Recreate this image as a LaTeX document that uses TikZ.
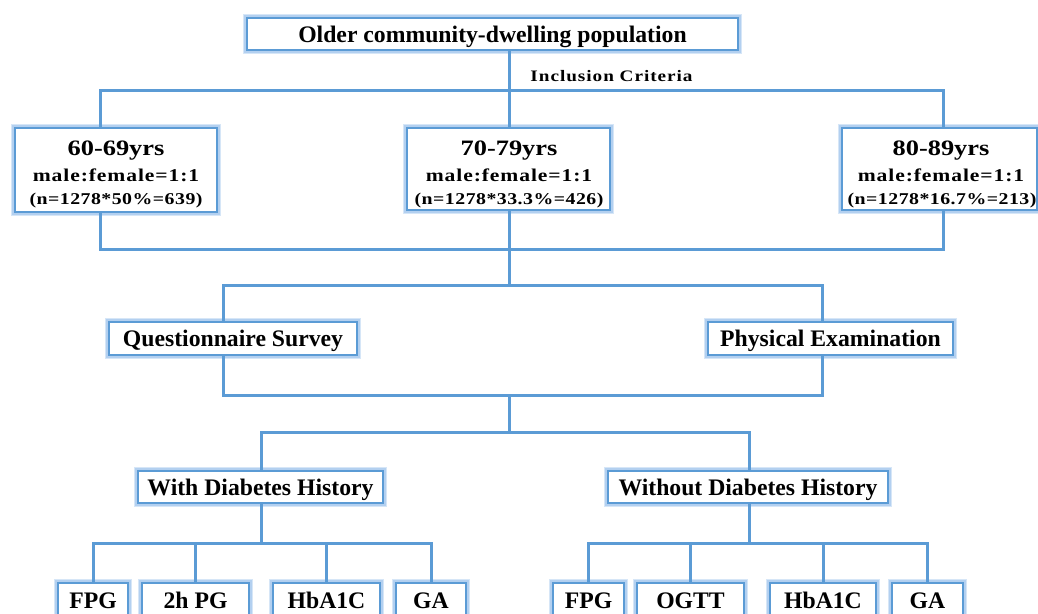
\documentclass[tikz,border=0pt]{standalone}
\usepackage{fontspec}
\setmainfont{Liberation Serif}
\definecolor{lineblue}{RGB}{91,155,213}
\definecolor{glowblue}{RGB}{165,200,238}
\newcommand\bigf{\fontsize{23.7}{26}\selectfont\bfseries}
\newcommand\agea{\fontsize{22}{25}\selectfont\bfseries\addfontfeature{FakeStretch=1.2}}
\newcommand\ageb{\fontsize{18}{21}\selectfont\bfseries\addfontfeature{FakeStretch=1.2,LetterSpace=5}}
\newcommand\agec{\fontsize{16.5}{20}\selectfont\bfseries\addfontfeature{FakeStretch=1.2,LetterSpace=3}}
\newcommand\incf{\fontsize{16}{20}\selectfont\bfseries\addfontfeature{FakeStretch=1.2,LetterSpace=6}}
\tikzset{
  conn/.style={draw=lineblue, line width=3pt},
  box/.style={draw=lineblue, line width=2.6pt, fill=white, inner sep=0pt,
    text height=16pt, text depth=0pt, font=\bigf,
    preaction={draw=glowblue, line width=8.5pt, opacity=.45},
    preaction={draw=glowblue, line width=5.5pt, opacity=.7}},
  txt/.style={anchor=base, inner sep=0pt},
}
\begin{document}
\begin{tikzpicture}[x=1pt,y=-1pt]
\useasboundingbox (0,0) rectangle (1038,613);
\clip (0,0) rectangle (1038,613);
\fill[white] (0,0) rectangle (1038,613);

% boxes
\node[box, minimum width=491pt, minimum height=32pt] (top) at (492.5,34) {Older community-dwelling population};
\node[txt, font=\incf] (inc) at (611.5,81) {Inclusion Criteria};

\node[box, minimum width=202pt, minimum height=84pt] (a60) at (116,170) {};
\node[box, minimum width=203pt, minimum height=82pt] (a70) at (508.5,169) {};
\node[box, minimum width=195pt, minimum height=82pt] (a80) at (939.5,169) {};

\node[txt, font=\agea] (a60t1) at (116,155) {60-69yrs};
\node[txt, font=\ageb] (a60t2) at (116,181) {male:female=1:1};
\node[txt, font=\agec] (a60t3) at (116,204) {(n=1278*50\%=639)};
\node[txt, font=\agea] (a70t1) at (509,155) {70-79yrs};
\node[txt, font=\ageb] (a70t2) at (509,181) {male:female=1:1};
\node[txt, font=\agec] (a70t3) at (509,204) {(n=1278*33.3\%=426)};
\node[txt, font=\agea] (a80t1) at (941,155) {80-89yrs};
\node[txt, font=\ageb] (a80t2) at (941,181) {male:female=1:1};
\node[txt, font=\agec] (a80t3) at (942,204) {(n=1278*16.7\%=213)};

\node[box, minimum width=248pt, minimum height=33pt] (qs) at (233,338.5) {Questionnaire Survey};
\node[box, minimum width=245pt, minimum height=33pt] (pe) at (830.5,338.5) {Physical Examination};

\node[box, minimum width=245pt, minimum height=32pt] (wd) at (260.5,487) {With Diabetes History};
\node[box, minimum width=280pt, minimum height=32pt] (nd) at (748,487) {Without Diabetes History};

\node[box, minimum width=70pt, minimum height=34pt] (b1) at (93,600) {FPG};
\node[box, minimum width=107pt, minimum height=34pt] (b2) at (195.5,600) {2h PG};
\node[box, minimum width=107pt, minimum height=34pt] (b3) at (326.5,600) {HbA1C};
\node[box, minimum width=70pt, minimum height=34pt] (b4) at (431,600) {GA};

\node[box, minimum width=71pt, minimum height=34pt] (c1) at (588.5,600) {FPG};
\node[box, minimum width=107pt, minimum height=34pt] (c2) at (690.5,600) {OGTT};
\node[box, minimum width=106pt, minimum height=34pt] (c3) at (823,600) {HbA1C};
\node[box, minimum width=71pt, minimum height=34pt] (c4) at (927.5,600) {GA};

% junctions
\coordinate (L1) at (100,90);  \coordinate (M1) at (509,90);  \coordinate (R1) at (943,90);
\coordinate (L2) at (100,249); \coordinate (M2) at (509,249); \coordinate (R2) at (943,249);
\coordinate (L3) at (223,285); \coordinate (M3) at (509,285); \coordinate (R3) at (822,285);
\coordinate (L4) at (223,395); \coordinate (M4) at (509,395); \coordinate (R4) at (822,395);
\coordinate (L5) at (261,432); \coordinate (M5) at (509,432); \coordinate (R5) at (749,432);
\coordinate (W6) at (261,543); \coordinate (N6) at (749,543);

% connectors
\draw[conn] (top.south -| M1) -- (M1);
\draw[conn] (L1 |- a60.north) -- (L1) -- (R1) -- (R1 |- a80.north);
\draw[conn] (M1) -- (M1 |- a70.north);
\draw[conn] (a60.south -| L2) -- (L2) -- (R2) -- (a80.south -| R2);
\draw[conn] (a70.south -| M2) -- (M2) -- (M3);
\draw[conn] (qs.north -| L3) -- (L3) -- (R3) -- (pe.north -| R3);
\draw[conn] (qs.south -| L4) -- (L4) -- (R4) -- (pe.south -| R4);
\draw[conn] (M4) -- (M5);
\draw[conn] (wd.north -| L5) -- (L5) -- (R5) -- (nd.north -| R5);
\draw[conn] (wd.south -| W6) -- (W6);
\draw[conn] (b1.north) |- (W6) -| (b4.north);
\draw[conn] (b2.north) -- (b2.north |- W6);
\draw[conn] (b3.north) -- (b3.north |- W6);
\draw[conn] (nd.south -| N6) -- (N6);
\draw[conn] (c1.north) |- (N6) -| (c4.north);
\draw[conn] (c2.north) -- (c2.north |- N6);
\draw[conn] (c3.north) -- (c3.north |- N6);
\end{tikzpicture}
\end{document}
